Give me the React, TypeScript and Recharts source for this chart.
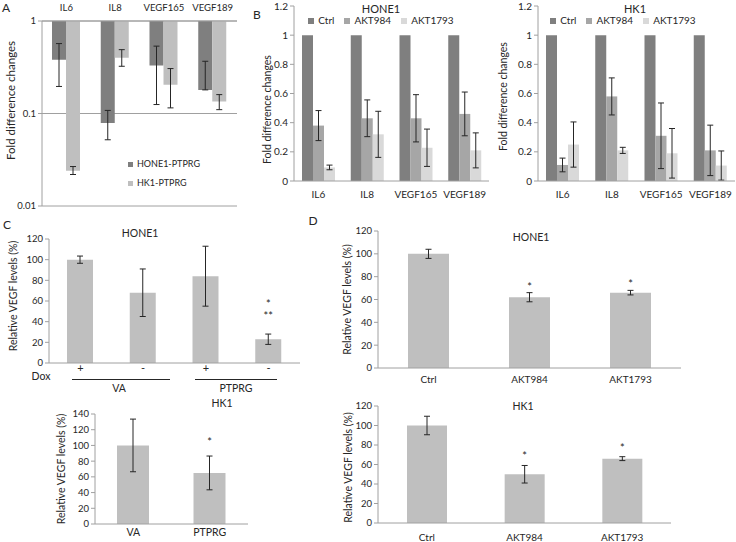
import React from 'react'
import { BarChart, Bar, XAxis, YAxis, CartesianGrid, ErrorBar, Legend, LabelList } from 'recharts'

const FONT = 'Lato, "Open Sans", sans-serif'
const INK = '#262626'
const AXIS = '#a0a0a0'
const WHISKER = '#262626'
const DARK = '#7f7f7f'
const MID = '#a6a6a6'
const PALE = '#d9d9d9'
const BAR = '#bfbfbf'

// Panel A: fold change on a log axis, bars hang down from 1
const genes = ['IL6', 'IL8', 'VEGF165', 'VEGF189']
const aHone = [0.38, 0.079, 0.33, 0.18]
const aHoneLo = [0.196, 0.052, 0.125, 0.18]
const aHoneHi = [0.57, 0.108, 0.535, 0.367]
const aHk = [0.024, 0.4, 0.205, 0.135]
const aHkLo = [0.0219, 0.324, 0.115, 0.11]
const aHkHi = [0.0267, 0.49, 0.306, 0.16]
const aSeries = ['HONE1-PTPRG', 'HK1-PTPRG']

// Panel B: knockdown clones vs control
const bSeries = ['Ctrl', 'AKT984', 'AKT1793']
const bHoneCtrl = [1, 1, 1, 1]
const bHone984 = [0.38, 0.43, 0.43, 0.46]
const bHone984Sd = [0.103, 0.126, 0.162, 0.15]
const bHone1793 = [0.093, 0.32, 0.228, 0.21]
const bHone1793Sd = [0.016, 0.158, 0.128, 0.12]
const bHkCtrl = [1, 1, 1, 1]
const bHk984 = [0.11, 0.58, 0.31, 0.21]
const bHk984Sd = [0.047, 0.127, 0.225, 0.173]
const bHk1793 = [0.25, 0.21, 0.19, 0.106]
const bHk1793Sd = [0.155, 0.021, 0.17, 0.1]

// Panel C: VEGF levels with / without Dox
const cDox = ['+', '-', '+', '-']
const cVector = ['VA', 'VA', 'PTPRG', 'PTPRG']
const cHone = [100, 68, 84, 23]
const cHoneSd = [3.5, 23, 29, 5]
const cHoneSig = ['', '', '', '*\n**']
const cHkCats = ['VA', 'PTPRG']
const cHk = [100, 65]
const cHkSd = [33.5, 21.5]
const cHkSig = ['', '*']

// Panel D
const dCats = ['Ctrl', 'AKT984', 'AKT1793']
const dHone = [100, 62, 66]
const dHoneSd = [4, 4, 2]
const dHoneSig = ['', '*', '*']
const dHk = [100, 50, 66]
const dHkSd = [9.5, 9, 2]
const dHkSig = ['', '*', '*']

const aRows = genes.map((g, i) => ({
  gene: g,
  hone: [1, aHone[i]],
  honeErr: [aHone[i] - aHoneLo[i], aHoneHi[i] - aHone[i]],
  hk: [1, aHk[i]],
  hkErr: [aHk[i] - aHkLo[i], aHkHi[i] - aHk[i]],
}))

const bHoneRows = genes.map((g, i) => ({
  gene: g, ctrl: bHoneCtrl[i], a984: bHone984[i], a984Sd: bHone984Sd[i], a1793: bHone1793[i], a1793Sd: bHone1793Sd[i],
}))
const bHkRows = genes.map((g, i) => ({
  gene: g, ctrl: bHkCtrl[i], a984: bHk984[i], a984Sd: bHk984Sd[i], a1793: bHk1793[i], a1793Sd: bHk1793Sd[i],
}))

const cHoneRows = cDox.map((d, i) => ({ cat: cVector[i] + d, value: cHone[i], sd: cHoneSd[i], sig: cHoneSig[i] }))
const cHkRows = cHkCats.map((c, i) => ({ cat: c, value: cHk[i], sd: cHkSd[i], sig: cHkSig[i] }))
const dHoneRows = dCats.map((c, i) => ({ cat: c, value: dHone[i], sd: dHoneSd[i], sig: dHoneSig[i] }))
const dHkRows = dCats.map((c, i) => ({ cat: c, value: dHk[i], sd: dHkSd[i], sig: dHkSig[i] }))

// rotated axis title, x in chart coords, centred on the plot (plus a nudge)
const yTitle = (text: string, fontSize: number, x: number, shift = 0) => ({
  position: 'insideLeft',
  content: (p: any) => {
    const vb = p.viewBox || {}
    const cy = vb.y + vb.height / 2 + shift
    return (
      <text x={x} y={cy} transform={`rotate(-90 ${x} ${cy})`} textAnchor="middle" dominantBaseline="central" fontSize={fontSize} fill={INK}>
        {text}
      </text>
    )
  },
})

// asterisks sit above the whisker; px per unit comes from the bar itself
const starLabel = (pad: number) => (p: any) => {
  const row = p.value
  if (!row || !row.sig) return null
  const vb = p.viewBox || p
  const perUnit = vb.height / row.value
  const cx = vb.x + vb.width / 2
  const base = vb.y - row.sd * perUnit - pad
  const lines = String(row.sig).split('\n')
  return (
    <text textAnchor="middle" fontSize={11} fill={INK}>
      {lines.map((t, k) => (
        <tspan key={k} x={cx} y={base - (lines.length - 1 - k) * 12}>{t}</tspan>
      ))}
    </text>
  )
}

const legendText = (v: any) => <span style={{ color: INK }}>{v}</span>
const keepOrder = (names: string[]) => (item: any) => names.indexOf(item.value)

function Txt({ x, y, size = 10.5, children }: { x: number; y: number; size?: number; children: React.ReactNode }) {
  return (
    <div style={{ position: 'absolute', left: x, top: y, transform: 'translate(-50%, -50%)', fontSize: size, whiteSpace: 'nowrap', lineHeight: 1 }}>
      {children}
    </div>
  )
}

const at = (left: number, top: number) => ({ position: 'absolute' as const, left, top })

function PanelA() {
  return (
    <div style={at(0, 0)}>
      <BarChart width={245} height={212} data={aRows} margin={{ top: 0, right: 8, bottom: 6, left: 4 }} barGap={0} barSize={14}>
        <CartesianGrid vertical={false} stroke={AXIS} />
        <XAxis dataKey="gene" orientation="top" height={21} interval={0} tickLine={false} tickSize={6} tickMargin={4.5}
          axisLine={{ stroke: AXIS }} tick={{ fontSize: 9.5, fill: INK }} />
        <YAxis type="number" scale="log" domain={[0.01, 1]} ticks={[0.01, 0.1, 1]} allowDataOverflow width={38}
          tickSize={4} tickMargin={2} tickLine={{ stroke: AXIS }} axisLine={{ stroke: AXIS }}
          tick={{ fontSize: 9.5, fill: INK }} tickFormatter={(v: number) => String(v)}
          label={yTitle('Fold difference changes', 11.5, 10, -13)} />
        <Legend layout="vertical" verticalAlign="middle" align="center" iconType="square" iconSize={5}
          itemSorter={keepOrder(aSeries)}
          wrapperStyle={{ left: 128, top: 154, width: 'auto', lineHeight: '19px', fontSize: 9 }} formatter={legendText} />
        <Bar dataKey="hone" name={aSeries[0]} fill={DARK} isAnimationActive={false}>
          <ErrorBar dataKey="honeErr" width={3} stroke={WHISKER} strokeWidth={1} isAnimationActive={false} />
        </Bar>
        <Bar dataKey="hk" name={aSeries[1]} fill={BAR} isAnimationActive={false}>
          <ErrorBar dataKey="hkErr" width={3} stroke={WHISKER} strokeWidth={1} isAnimationActive={false} />
        </Bar>
      </BarChart>
    </div>
  )
}

function PanelB({ rows, left, width, yLeft, titleX, titleShift, legendWidth }: any) {
  return (
    <div style={at(left, 0)}>
      <BarChart width={width} height={205} data={rows} margin={{ top: 6, right: width === 245 ? 6 : 1, bottom: 0, left: yLeft }} barGap={0} barSize={11}>
        <XAxis dataKey="gene" height={24} interval={0} tickLine={false} tickSize={6} tickMargin={4}
          axisLine={{ stroke: AXIS }} tick={{ fontSize: 10, fill: INK }} />
        <YAxis type="number" domain={[0, 1.2]} ticks={[0, 0.2, 0.4, 0.6, 0.8, 1, 1.2]} width={38}
          tickSize={4} tickMargin={2} tickLine={{ stroke: AXIS }} axisLine={{ stroke: AXIS }}
          tick={{ fontSize: 10, fill: INK }}
          label={yTitle('Fold difference changes', 10.5, titleX, titleShift)} />
        <Legend layout="horizontal" verticalAlign="middle" align="center" iconType="square" iconSize={6}
          itemSorter={keepOrder(bSeries)}
          wrapperStyle={{ left: 0, top: 14, width: legendWidth, lineHeight: '12px', fontSize: 10 }} formatter={legendText} />
        <Bar dataKey="ctrl" name={bSeries[0]} fill={DARK} isAnimationActive={false} />
        <Bar dataKey="a984" name={bSeries[1]} fill={MID} isAnimationActive={false}>
          <ErrorBar dataKey="a984Sd" width={3} stroke={WHISKER} strokeWidth={1} isAnimationActive={false} />
        </Bar>
        <Bar dataKey="a1793" name={bSeries[2]} fill={PALE} isAnimationActive={false}>
          <ErrorBar dataKey="a1793Sd" width={3} stroke={WHISKER} strokeWidth={1} isAnimationActive={false} />
        </Bar>
      </BarChart>
    </div>
  )
}

function VegfChart({ rows, left, top, width, height, margin, yWidth, yMax, xHeight, xTickSize, xTickMargin, xFont,
  tickFmt, barSize, titleX, titleShift, starPad }: any) {
  const ticks: number[] = []
  for (let t = 0; t <= yMax; t += 20) ticks.push(t)
  return (
    <div style={at(left, top)}>
      <BarChart width={width} height={height} data={rows} margin={margin} barSize={barSize}>
        <XAxis dataKey="cat" height={xHeight} interval={0} tickLine={false} tickSize={xTickSize} tickMargin={xTickMargin}
          axisLine={{ stroke: AXIS }} tick={{ fontSize: xFont, fill: INK }} tickFormatter={tickFmt} />
        <YAxis type="number" domain={[0, yMax]} ticks={ticks} width={yWidth}
          tickSize={4} tickMargin={2} tickLine={{ stroke: AXIS }} axisLine={{ stroke: AXIS }}
          tick={{ fontSize: 9.5, fill: INK }}
          label={yTitle('Relative VEGF levels (%)', 10.5, titleX, titleShift)} />
        <Bar dataKey="value" fill={BAR} isAnimationActive={false}>
          <ErrorBar dataKey="sd" width={3} stroke={WHISKER} strokeWidth={1} isAnimationActive={false} />
          <LabelList dataKey={(r: any) => r} content={starLabel(starPad)} />
        </Bar>
      </BarChart>
    </div>
  )
}

export default function App() {
  return (
    <div style={{ position: 'absolute', left: 0, top: 0, width: 736, height: 542, background: '#fff', fontFamily: FONT, color: INK, overflow: 'hidden' }}>
      <PanelA />
      <PanelB rows={bHoneRows} left={250} width={245} yLeft={6} titleX={17} titleShift={16} legendWidth={272} />
      <PanelB rows={bHkRows} left={496} width={240} yLeft={4} titleX={7} titleShift={3} legendWidth={264} />

      <VegfChart rows={cHoneRows} left={0} top={225} width={305} height={152} margin={{ top: 14, right: 5, bottom: 0, left: 4 }}
        yWidth={45} yMax={120} xHeight={14} xTickSize={0} xTickMargin={1} xFont={11}
        tickFmt={(_v: any, i: number) => cDox[i]} barSize={26} titleX={13} titleShift={-5} starPad={14} />
      <VegfChart rows={cHkRows} left={0} top={400} width={255} height={142} margin={{ top: 14, right: 7, bottom: 1, left: 52 }}
        yWidth={43} yMax={140} xHeight={17} xTickSize={2} xTickMargin={3} xFont={10.5}
        barSize={32} titleX={61} titleShift={0} starPad={10} />
      <VegfChart rows={dHoneRows} left={330} top={218} width={356} height={170} margin={{ top: 13, right: 5, bottom: 0, left: 4 }}
        yWidth={44} yMax={120} xHeight={20} xTickSize={6} xTickMargin={2} xFont={10}
        barSize={41} titleX={17} titleShift={0} starPad={2} />
      <VegfChart rows={dHkRows} left={330} top={395} width={346} height={147} margin={{ top: 11, right: 5, bottom: 0, left: 4 }}
        yWidth={44} yMax={120} xHeight={19} xTickSize={6} xTickMargin={5} xFont={10}
        barSize={40} titleX={18} titleShift={3} starPad={5} />

      {/* panel letters and titles */}
      <Txt x={6} y={8} size={12}>A</Txt>
      <Txt x={257} y={15} size={12}>B</Txt>
      <Txt x={7} y={225} size={12}>C</Txt>
      <Txt x={313} y={221} size={12}>D</Txt>
      <Txt x={381} y={8} size={11}>HONE1</Txt>
      <Txt x={635} y={8} size={11}>HK1</Txt>
      <Txt x={140} y={233}>HONE1</Txt>
      <Txt x={222} y={403}>HK1</Txt>
      <Txt x={531} y={237}>HONE1</Txt>
      <Txt x={523} y={406}>HK1</Txt>

      {/* Dox / vector grouping under panel C */}
      <Txt x={41} y={376}>Dox</Txt>
      <div style={{ position: 'absolute', left: 72, top: 379, width: 98, height: 1, background: INK }} />
      <div style={{ position: 'absolute', left: 195, top: 379, width: 82, height: 1, background: INK }} />
      <Txt x={119} y={388}>VA</Txt>
      <Txt x={236} y={388}>PTPRG</Txt>
    </div>
  )
}
